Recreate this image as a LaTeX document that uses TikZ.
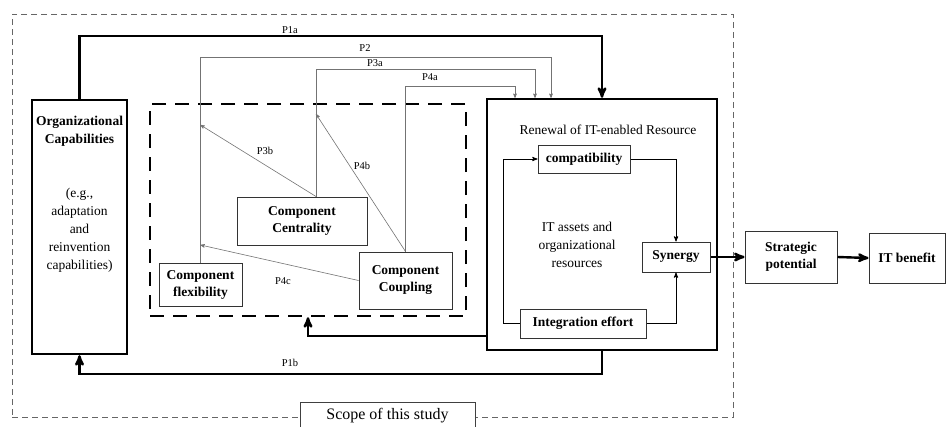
\documentclass[tikz,border=0pt]{standalone}
\usepackage{fontspec}
\setmainfont{Liberation Serif}
\usepackage{tikz}
\usetikzlibrary{arrows}
\tikzset{
  box/.style = {draw=black!80, line width=1pt, fill=white, align=center,
    inner sep=0pt, font=\bfseries\fontsize{13.5}{17}\selectfont},% small boxes
  heavybox/.style = {draw=black, line width=2.4pt},% capabilities and renewal
  heavy/.style = {line width=2.4pt},% main paths
  prop/.style = {draw=black!55, line width=0.6pt},% propositions
  plabel/.style = {font=\fontsize{10.5}{12}\selectfont, inner sep=0pt},
  plain/.style = {align=center, font=\fontsize{13.5}{18}\selectfont}
}
\begin{document}
\begin{tikzpicture}[->,>=stealth',x=1pt,y=-1pt]
\useasboundingbox (0,0) rectangle (948,426);
% scope of the study
\node [draw=black!60, dash pattern=on 6pt off 4pt, line width=0.7pt,
  minimum width=721pt, minimum height=403pt] (study) at (372.5,215.5) {};
\node [draw=black!75, line width=1pt, fill=white, minimum width=175pt,
  minimum height=28pt, font=\fontsize{16}{18}\selectfont] (scope) at (387.5,416) {Scope of this study};
% capabilities
\node [heavybox, minimum width=95pt, minimum height=254pt] (org) at (79.5,227) {};
\node [plain, font=\bfseries\fontsize{13.5}{18}\selectfont] (orgname) at (79.5,131) {Organizational\\Capabilities};
\node [plain] (orgex) at (79.5,230) {(e.g.,\\adaptation\\and\\reinvention\\capabilities)};
% modularity
\node [draw, line width=2.4pt, dash pattern=on 14pt off 9pt, minimum width=316pt,
  minimum height=212pt] (modbox) at (308,210) {};
\node [box, minimum width=83pt, minimum height=43pt] (flex) at (200.5,284.5) {Component\\flexibility};
\node [box, minimum width=130pt, minimum height=48pt] (central) at (302,221) {Component\\Centrality};
\node [box, minimum width=93pt, minimum height=57pt] (coupl) at (405.5,280.5) {Component\\Coupling};
% renewal
\node [heavybox, minimum width=230pt, minimum height=251pt] (renew) at (602,224.5) {};
\node [plain] (renewname) at (608,130) {Renewal of IT-enabled Resource};
\node [box, minimum width=92pt, minimum height=28pt] (compat) at (584,159) {compatibility};
\node [box, minimum width=68pt, minimum height=30pt] (synergy) at (676,257) {Synergy};
\node [box, minimum width=126pt, minimum height=29pt] (integ) at (583,323.5) {Integration effort};
\node [plain] (assets) at (577,245) {IT assets and\\organizational\\resources};
% outcomes
\node [box, minimum width=92pt, minimum height=52pt] (strat) at (791,257) {Strategic\\potential};
\node [box, minimum width=76pt, minimum height=50pt] (benefit) at (907,258) {IT benefit};

\coordinate (p3bend) at (200.5,125);
\coordinate (p4bend) at (316,114);
\coordinate (p4cend) at (200.5,245);

% propositions
\draw [heavy] (org.north) -- ++(0,-63) -| (renew.north);
\draw [prop] (flex.north) -- ++(0,-205.5) -| ([xshift=-51pt]renew.north);
\draw [prop] ([xshift=14pt]central.north) -- ++(0,-127) -| ([xshift=-67pt]renew.north);
\draw [prop] (coupl.north) -- ++(0,-165) -| ([xshift=-87pt]renew.north);
\draw [prop] ([xshift=14pt]central.north) -- (p3bend);
\draw [prop] (coupl.north) -- (p4bend);
\draw [prop] (coupl.west) -- (p4cend);
\draw [heavy] ([yshift=-111.5pt]renew.west) -| (modbox.south);
\draw [heavy] (renew.south) -- ++(0,23) -| (org.south);
% inside renewal
\draw [line width=0.9pt] (integ.west) -- ++(-16,0) |- (compat.west);
\draw [line width=0.9pt] (compat.east) -| (synergy.north);
\draw [line width=0.9pt] (integ.east) -| (synergy.south);
\draw [heavy] (synergy.east) -- (strat.west);
\draw [heavy] (strat.east) -- (benefit.west);

\node [plabel] (l1a) at (290,30) {P1a};
\node [plabel] (l2) at (365,48) {P2};
\node [plabel] (l3a) at (375,63) {P3a};
\node [plabel] (l4a) at (430,77) {P4a};
\node [plabel] (l3b) at (265,151) {P3b};
\node [plabel] (l4b) at (362,166) {P4b};
\node [plabel] (l4c) at (283,281) {P4c};
\node [plabel] (l1b) at (290,363) {P1b};
\end{tikzpicture}
\end{document}
